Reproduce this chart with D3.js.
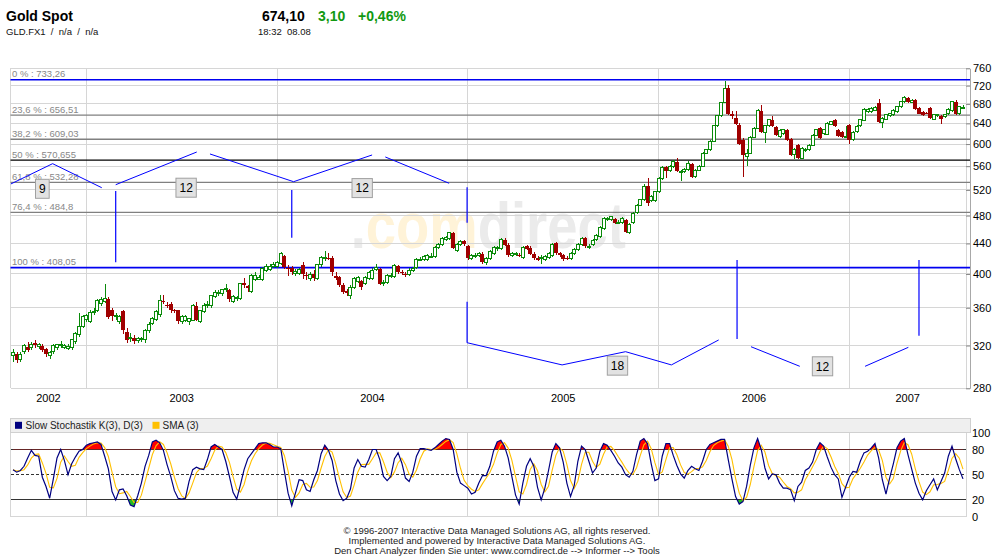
<!DOCTYPE html>
<html><head><meta charset="utf-8">
<script src="https://cdn.jsdelivr.net/npm/d3@7"></script>
<style>
body{margin:0;background:#fff;}
svg{display:block;font-family:"Liberation Sans",Arial,sans-serif;}
</style></head><body>
<svg id="c" width="993" height="556"></svg>
<script>
// ---------- DATA ----------
// weekly candles [open, high, low, close], week of 19 Aug 2002 .. week of 6 Aug 2007
const candles = [
[310,317,304,313],[312,314,303,306],[306,314,304,311],[314,322,312,320],[319,324,314,316],
[318,324,316,321],[323,326,318,321],[319,323,317,321],[320,322,314,316],[317,318,309,312],
[310,315,307,313],[314,322,312,320],[318,322,316,321],[320,325,318,321],[318,322,317,320],
[317,322,316,319],[318,327,316,326],[324,334,322,332],[331,354,329,340],[340,352,338,350],
[347,353,344,351],[345,357,343,355],[355,360,352,356],[357,370,355,368],[365,372,362,369],
[367,388,365,370],[370,372,348,350],[357,360,345,351],[350,354,346,351],[345,352,342,350],
[356,358,332,336],[334,338,323,326],[327,333,324,328],[328,331,322,325],[325,329,323,327],
[326,329,324,327],[326,337,323,335],[335,344,333,342],[343,350,341,348],[347,358,345,356],
[352,375,350,368],[368,375,364,366],[363,367,360,362],[364,366,354,357],[357,359,354,356],
[357,358,342,345],[345,352,342,350],[346,352,344,350],[345,349,341,348],[346,364,345,362],
[362,366,345,347],[345,358,343,357],[356,365,354,363],[363,368,360,364],[362,375,360,374],
[373,380,371,377],[376,381,373,377],[376,382,374,381],[381,388,378,382],[381,382,367,370],
[367,375,365,373],[370,374,368,372],[371,389,369,388],[389,395,383,386],[385,386,378,383],
[379,400,377,398],[393,402,391,398],[393,399,392,396],[393,409,391,407],[405,413,403,409],
[406,413,404,410],[409,415,407,412],[410,416,408,414],[413,429,411,426],[423,425,406,409],
[408,411,398,407],[407,410,399,403],[400,406,398,403],[401,408,399,406],[412,415,394,400],
[399,402,392,397],[395,402,391,399],[400,405,391,395],[395,413,393,412],[412,423,409,421],
[421,430,417,421],[421,427,418,420],[421,423,398,402],[398,402,392,395],[396,398,384,387],
[387,389,376,378],[379,382,374,377],[374,386,370,384],[384,396,382,394],[391,398,389,396],
[391,393,381,384],[388,398,386,396],[394,404,392,402],[394,407,392,405],[406,413,404,408],
[406,408,386,388],[388,392,385,389],[390,400,388,398],[398,401,395,398],[397,413,395,411],
[410,412,400,402],[402,405,399,401],[400,403,396,399],[399,407,397,405],[405,409,403,407],
[408,421,406,419],[419,422,416,419],[418,425,416,423],[419,426,417,424],[423,427,420,423],
[423,437,421,435],[434,440,432,438],[438,449,436,447],[445,451,443,448],[447,456,445,455],
[454,456,432,434],[431,440,429,438],[438,445,436,443],[443,445,437,439],[436,438,418,420],
[420,426,418,424],[424,427,421,424],[424,429,422,427],[426,428,413,415],[414,422,411,420],
[420,431,418,429],[426,437,424,435],[433,436,430,434],[433,447,431,445],[445,447,436,438],
[438,440,422,424],[424,428,422,426],[426,429,423,426],[425,427,422,424],[421,436,419,434],
[436,438,431,433],[434,436,424,426],[426,428,418,420],[421,423,416,418],[421,424,413,421],
[419,425,417,423],[421,428,419,426],[424,440,422,438],[440,442,425,427],[427,429,422,424],
[424,426,417,419],[421,423,418,420],[420,428,418,426],[427,434,425,432],[432,440,430,438],
[438,449,436,447],[447,449,434,436],[436,439,433,436],[438,446,436,444],[445,453,443,451],
[450,465,448,463],[461,478,459,476],[474,478,472,476],[474,480,472,478],[475,477,467,469],
[470,473,467,470],[470,478,468,476],[473,475,454,456],[455,469,453,467],[469,485,467,483],
[484,498,482,496],[496,506,494,504],[504,530,502,526],[526,540,494,499],[503,512,500,510],
[503,519,500,517],[517,541,515,539],[539,560,537,558],[558,561,539,551],[552,562,550,560],
[559,570,557,568],[568,575,550,551],[551,553,534,551],[551,556,549,554],[554,569,552,564],
[564,566,540,541],[542,555,540,553],[553,562,551,560],[560,585,558,583],[583,591,581,589],
[589,607,587,605],[605,637,603,635],[635,657,633,655],[655,685,653,683],[683,731,681,714],
[714,722,656,658],[658,665,648,655],[650,665,637,639],[637,640,598,601],[608,612,541,580],
[577,590,561,583],[583,616,581,613],[613,633,611,630],[630,669,628,667],[666,678,621,623],
[622,637,602,635],[635,649,633,647],[646,655,632,634],[632,634,615,617],[614,628,612,626],
[620,629,618,627],[627,629,606,608],[609,611,578,580],[580,592,572,590],[598,600,572,574],
[574,594,572,592],[588,592,586,590],[590,600,588,598],[598,619,596,617],[617,629,615,627],
[630,632,609,611],[620,629,618,627],[619,642,617,640],[638,645,636,643],[647,649,632,634],
[626,628,613,615],[623,625,611,613],[615,634,612,615],[637,639,601,608],[608,624,606,622],
[624,636,622,634],[635,649,633,647],[646,671,644,669],[664,671,662,669],[664,673,662,671],
[667,675,665,673],[681,690,640,642],[642,652,630,650],[648,659,646,657],[655,662,653,660],
[657,669,655,667],[664,676,662,674],[674,687,672,685],[685,696,683,694],[692,694,683,685],
[683,690,681,688],[688,690,667,669],[671,673,658,660],[664,666,655,657],[662,664,658,660],
[671,673,648,650],[648,659,646,657],[657,660,652,657],[655,657,638,648],[653,659,651,657],
[659,671,657,669],[666,687,664,685],[685,689,657,659],[659,676,657,674],[673,678,670,673]
];
// Slow stochastic %K, one value per week
const stochK = [
56,53,55,60,70,79,73,72,47,36, 22,45,70,80,67,50,63,71,78,80,
85,87,88,89,86,72,57,30,20,32, 33,25,14,12,25,40,60,73,89,91,
88,79,62,48,31,22,21,22,42,56, 59,57,56,68,83,86,83,80,66,48,
29,21,38,56,69,75,81,87,88,88, 86,83,83,81,54,28,13,28,44,43,
32,30,44,55,75,85,79,67,43,27, 19,22,33,58,68,60,59,68,80,80,
68,48,43,48,69,76,64,46,42,53, 72,81,81,80,79,82,86,90,93,92,
80,53,40,37,34,27,29,40,49,49, 60,78,89,91,84,70,48,26,15,40,
60,69,60,35,20,34,55,77,87,82, 65,40,24,37,66,84,80,66,52,58,
78,87,85,79,72,64,59,50,47,54, 74,90,93,87,63,43,45,72,87,87,
73,61,51,46,55,60,57,55,66,80, 86,88,90,92,92,68,45,24,15,18,
36,61,82,93,80,58,45,51,50,40, 34,34,32,19,36,41,55,58,65,80,
88,84,71,59,50,45,23,35,47,54, 53,66,76,78,82,87,70,44,27,46,
63,82,90,93,74,57,40,28,20,31, 38,45,32,42,52,72,84,69,56,45
];
const priceTicks = [280,320,360,400,440,480,520,560,600,640,680,720,760];
const stochTicks = [0,20,50,80,100];
const stochLevels = [20,50,80];
const yearLabels = ['2002','2003','2004','2005','2006','2007'];
const yearStartIdx = [20,72,124,176,228];   // first weekly candle of 2003..2007
const fibPct = ['0','23,6','38,2','50','61,8','76,4','100'];
const fibVal = [733.26,656.51,609.03,570.655,532.28,484.8,408.05];
const fibText = ['733,26','656,51','609,03','570,655','532,28','484,8','408,05'];
// cycle annotation lines, points as [week index, price]
const cycleArcs = [
  [[-0.6,529.7],[10.8,564.4],[24.2,523.6]],
  [[28.0,528.5],[50.1,585.3]],
  [[53.7,581.7],[76.5,533.5],[97.9,579.9]],
  [[101.5,576.3],[118.9,530.9]],
  [[123.8,322.8],[149.7,301.2],[167.0,313.9],[179.5,301.2],[192.4,325.6]],
  [[201.2,318.8],[214.5,299.9]],
  [[232.3,299.9],[244.1,318.2]]
];
const cycleMarks = [[28.0,518.3,414.9],[76.0,519.9,448.0],[123.8,524.3,469.5],[123.8,366.9,322.8],[197.4,417.9,326.6],[247.0,417.9,330.0]];
const cycleLabels = [[8.0,521.8,'9'],[47.2,523.6,'12'],[95.2,523.0,'12'],[164.8,300.5,'18'],[220.7,299.9,'12']];
const watermarkParts = ['.', 'com', 'direct'];
const footerLines = [
  '\u00A9 1996-2007 Interactive Data Managed Solutions AG, all rights reserved.',
  'Implemented and powered by Interactive Data Managed Solutions AG.',
  'Den Chart Analyzer finden Sie unter: www.comdirect.de --> Informer --> Tools'
];

// ---------- LAYOUT ----------
const svg = d3.select('#c');
const plotL = 10.5, plotR = 966, axisX = 970;
const mainTop = 68.3, mainBot = 388.3;
const legTop = 418.3, stTop = 432.7, stBot = 516.7;
const GRID = '#d6d6d6', GREEN = '#0a8a0a', RED = '#a00000';

const x = d3.scaleLinear().domain([0, candles.length - 1]).range([13, 963]);
const y = d3.scaleLog().domain([280, 760]).range([mainBot, mainTop]);
const ys = d3.scaleLinear().domain([0, 100]).range([stBot, stTop]);

const defs = svg.append('defs');
defs.append('clipPath').attr('id','clipMain').append('rect')
  .attr('x',plotL).attr('y',mainTop-2).attr('width',plotR-plotL).attr('height',mainBot-mainTop+2);
defs.append('clipPath').attr('id','clipSt').append('rect')
  .attr('x',plotL).attr('y',stTop-6).attr('width',plotR-plotL).attr('height',stBot-stTop+8);
defs.append('clipPath').attr('id','clipHi').append('rect')
  .attr('x',plotL).attr('y',stTop-10).attr('width',plotR-plotL).attr('height',ys(80)-stTop+10);
defs.append('clipPath').attr('id','clipLo').append('rect')
  .attr('x',plotL).attr('y',ys(20)).attr('width',plotR-plotL).attr('height',stBot-ys(20)+10);

// ---------- HEADER ----------
const hdr = svg.append('g');
hdr.append('text').attr('x',6).attr('y',20.5).attr('font-size',14).attr('font-weight','bold').text('Gold Spot');
hdr.append('text').attr('x',6).attr('y',35).attr('font-size',9.5).attr('fill','#111')
  .style('white-space','pre').text('GLD.FX1  /  n/a  /  n/a');
hdr.append('text').attr('x',262).attr('y',20.5).attr('font-size',14).attr('font-weight','bold').text('674,10');
hdr.append('text').attr('x',318).attr('y',20.5).attr('font-size',14).attr('font-weight','bold').attr('fill','#119911').text('3,10');
hdr.append('text').attr('x',358).attr('y',20.5).attr('font-size',14).attr('font-weight','bold').attr('fill','#119911').text('+0,46%');
hdr.append('text').attr('x',258).attr('y',35).attr('font-size',9.5).attr('fill','#111')
  .style('white-space','pre').text('18:32  08.08');

// ---------- MAIN PANEL ----------
const main = svg.append('g');
// watermark (condensed bold, centred in plot)
const wmG = main.append('g')
  .attr('transform',`translate(${(plotL+plotR)/2},${mainTop+(mainBot-mainTop)*0.562}) scale(0.85,1)`);
const wm = wmG.append('text').attr('text-anchor','middle').attr('font-size',64).attr('font-weight','bold');
wm.selectAll('tspan').data(watermarkParts).join('tspan')
  .attr('fill',(d,i)=>i===1?'#fff3d8':'#ebebeb').text(d=>d);

// horizontal grid
main.append('g').selectAll('line').data(priceTicks).join('line')
  .attr('x1',plotL).attr('x2',axisX).attr('y1',d=>y(d)).attr('y2',d=>y(d))
  .attr('stroke',GRID).attr('shape-rendering','crispEdges');
// vertical grid (year starts) + plot borders
main.append('g').selectAll('line').data(yearStartIdx).join('line')
  .attr('x1',d=>x(d)).attr('x2',d=>x(d)).attr('y1',mainTop).attr('y2',mainBot)
  .attr('stroke',GRID).attr('shape-rendering','crispEdges');
main.append('g').selectAll('line').data([plotL, plotR]).join('line')
  .attr('x1',d=>d).attr('x2',d=>d).attr('y1',mainTop).attr('y2',mainBot)
  .attr('stroke',GRID).attr('shape-rendering','crispEdges');

// fibonacci levels
const fibColor = i => (i===0 || i===fibVal.length-1) ? '#0000f0' : (fibPct[i]==='50' ? '#000' : '#808080');
main.append('g').selectAll('line').data(fibVal).join('line')
  .attr('x1',plotL).attr('x2',axisX).attr('y1',d=>y(d)).attr('y2',d=>y(d))
  .attr('stroke',(d,i)=>fibColor(i)).attr('stroke-width',(d,i)=>(i===0||i===fibVal.length-1)?1.6:1.3);
main.append('g').selectAll('text').data(fibVal).join('text')
  .attr('x',plotL+1.5).attr('y',d=>y(d)-2.5).attr('font-size',9.5).attr('fill','#888')
  .text((d,i)=>`${fibPct[i]} % : ${fibText[i]}`);

// cycle annotations
const ann = main.append('g').attr('clip-path','url(#clipMain)');
const cl = d3.line().x(d=>x(d[0])).y(d=>y(d[1]));
ann.selectAll('path').data(cycleArcs).join('path')
  .attr('d',cl).attr('fill','none').attr('stroke','#0000ff').attr('stroke-width',1);
ann.selectAll('line').data(cycleMarks).join('line')
  .attr('x1',d=>x(d[0])).attr('x2',d=>x(d[0])).attr('y1',d=>y(d[1])).attr('y2',d=>y(d[2]))
  .attr('stroke','#0000ff').attr('stroke-width',1.2);

// candles
const cg = main.append('g').attr('clip-path','url(#clipMain)').attr('shape-rendering','crispEdges');
candles.forEach((c,i)=>{
  const [o,h,l,cl2] = c;
  const cx = Math.round(x(i));
  const up = cl2 >= o;
  const col = up ? GREEN : RED;
  const top = y(Math.max(o,cl2)), bot = y(Math.min(o,cl2));
  const bh = Math.max(1, bot-top);
  if (up) {
    cg.append('line').attr('x1',cx).attr('x2',cx).attr('y1',y(h)).attr('y2',top).attr('stroke',col);
    cg.append('line').attr('x1',cx).attr('x2',cx).attr('y1',top+bh).attr('y2',y(l)).attr('stroke',col);
    cg.append('rect').attr('x',cx-1.5).attr('y',top).attr('width',3).attr('height',bh)
      .attr('fill','#fff').attr('stroke',col).attr('stroke-width',1);
  } else {
    cg.append('line').attr('x1',cx).attr('x2',cx).attr('y1',y(h)).attr('y2',y(l)).attr('stroke',col);
    cg.append('rect').attr('x',cx-2).attr('y',top).attr('width',4).attr('height',bh).attr('fill',col);
  }
});

// cycle labels
const lab = main.append('g').selectAll('g').data(cycleLabels).join('g')
  .attr('transform',d=>`translate(${x(d[0])},${y(d[1])})`);
lab.append('rect').attr('fill','#e2e2e2').attr('stroke','#a0a0a0');
lab.append('text').attr('text-anchor','middle').attr('dy','0.36em').attr('font-size',12).text(d=>d[2]);
lab.each(function(){
  const g = d3.select(this);
  const w = g.select('text').node().getComputedTextLength() + 7;
  g.select('rect').attr('x',-w/2).attr('y',-9.5).attr('width',w).attr('height',19);
});

// right price axis
const ax = svg.append('g').attr('transform',`translate(${axisX},0)`)
  .call(d3.axisRight(y).tickValues(priceTicks).tickFormat(d3.format('d')).tickSizeInner(-4).tickSizeOuter(0).tickPadding(3));
ax.select('.domain').attr('stroke','#a8a8a8');
ax.selectAll('.tick line').attr('stroke','#888');
ax.selectAll('text').attr('font-size',11).attr('fill','#000').attr('font-family','"Liberation Sans",Arial,sans-serif');

// year labels (centred in each year's visible span)
const bounds = [plotL, ...yearStartIdx.map(d=>x(d)), plotR];
svg.append('g').selectAll('text').data(yearLabels).join('text')
  .attr('x',(d,i)=>(bounds[i]+bounds[i+1])/2).attr('y',401.5)
  .attr('text-anchor','middle').attr('font-size',11).text(d=>d);

// ---------- STOCHASTIC PANEL ----------
const st = svg.append('g');
st.append('rect').attr('x',plotL).attr('y',legTop).attr('width',axisX-plotL).attr('height',stTop-legTop)
  .attr('fill','#efefef').attr('stroke','#d0d0d0').attr('shape-rendering','crispEdges');
st.append('rect').attr('x',15).attr('y',legTop+3.5).attr('width',7).attr('height',7).attr('fill','#000080');
st.append('text').attr('x',25.5).attr('y',legTop+11).attr('font-size',10).attr('fill','#222').text('Slow Stochastik K(3), D(3)');
st.append('rect').attr('x',152.5).attr('y',legTop+3.5).attr('width',7).attr('height',7).attr('fill','#ffc000');
st.append('text').attr('x',162.5).attr('y',legTop+11).attr('font-size',10).attr('fill','#222').text('SMA (3)');

st.append('g').selectAll('line').data([...yearStartIdx.map(d=>x(d)), plotL, plotR]).join('line')
  .attr('x1',d=>d).attr('x2',d=>d).attr('y1',stTop).attr('y2',stBot)
  .attr('stroke',GRID).attr('shape-rendering','crispEdges');
st.append('line').attr('x1',plotL).attr('x2',plotR).attr('y1',stBot).attr('y2',stBot)
  .attr('stroke',GRID).attr('shape-rendering','crispEdges');
st.append('g').selectAll('line').data(stochLevels).join('line')
  .attr('x1',plotL).attr('x2',plotR).attr('y1',d=>ys(d)).attr('y2',d=>ys(d))
  .attr('stroke','#333').attr('stroke-dasharray',d=>d===50?'3,2':null).attr('shape-rendering','crispEdges');

const stochD = stochK.map((v,i)=>d3.mean(stochK.slice(Math.max(0,i-2), i+1)));
const sg = st.append('g').attr('clip-path','url(#clipSt)');
sg.append('path').attr('clip-path','url(#clipHi)')
  .attr('d', d3.area().x((d,i)=>x(i)).y0(ys(80)).y1(d=>ys(d))(stochK)).attr('fill','#ff0000');
sg.append('path').attr('clip-path','url(#clipLo)')
  .attr('d', d3.area().x((d,i)=>x(i)).y0(ys(20)).y1(d=>ys(d))(stochK)).attr('fill','#22bb22');
sg.append('path').attr('d', d3.line().x((d,i)=>x(i)).y(d=>ys(d))(stochD))
  .attr('fill','none').attr('stroke','#ffc000').attr('stroke-width',1.1);
sg.append('path').attr('d', d3.line().x((d,i)=>x(i)).y(d=>ys(d))(stochK))
  .attr('fill','none').attr('stroke','#000080').attr('stroke-width',1.2);

const sax = svg.append('g').attr('transform',`translate(${axisX},0)`)
  .call(d3.axisRight(ys).tickValues(stochTicks).tickSize(0).tickPadding(2));
sax.select('.domain').remove();
sax.selectAll('text').attr('font-size',11).attr('fill','#000').attr('font-family','"Liberation Sans",Arial,sans-serif');

// ---------- FOOTER ----------
svg.append('g').selectAll('text').data(footerLines).join('text')
  .attr('x',497).attr('y',(d,i)=>534 + i*10).attr('text-anchor','middle')
  .attr('font-size',9.5).attr('fill','#222').text(d=>d);
</script>
</body></html>
